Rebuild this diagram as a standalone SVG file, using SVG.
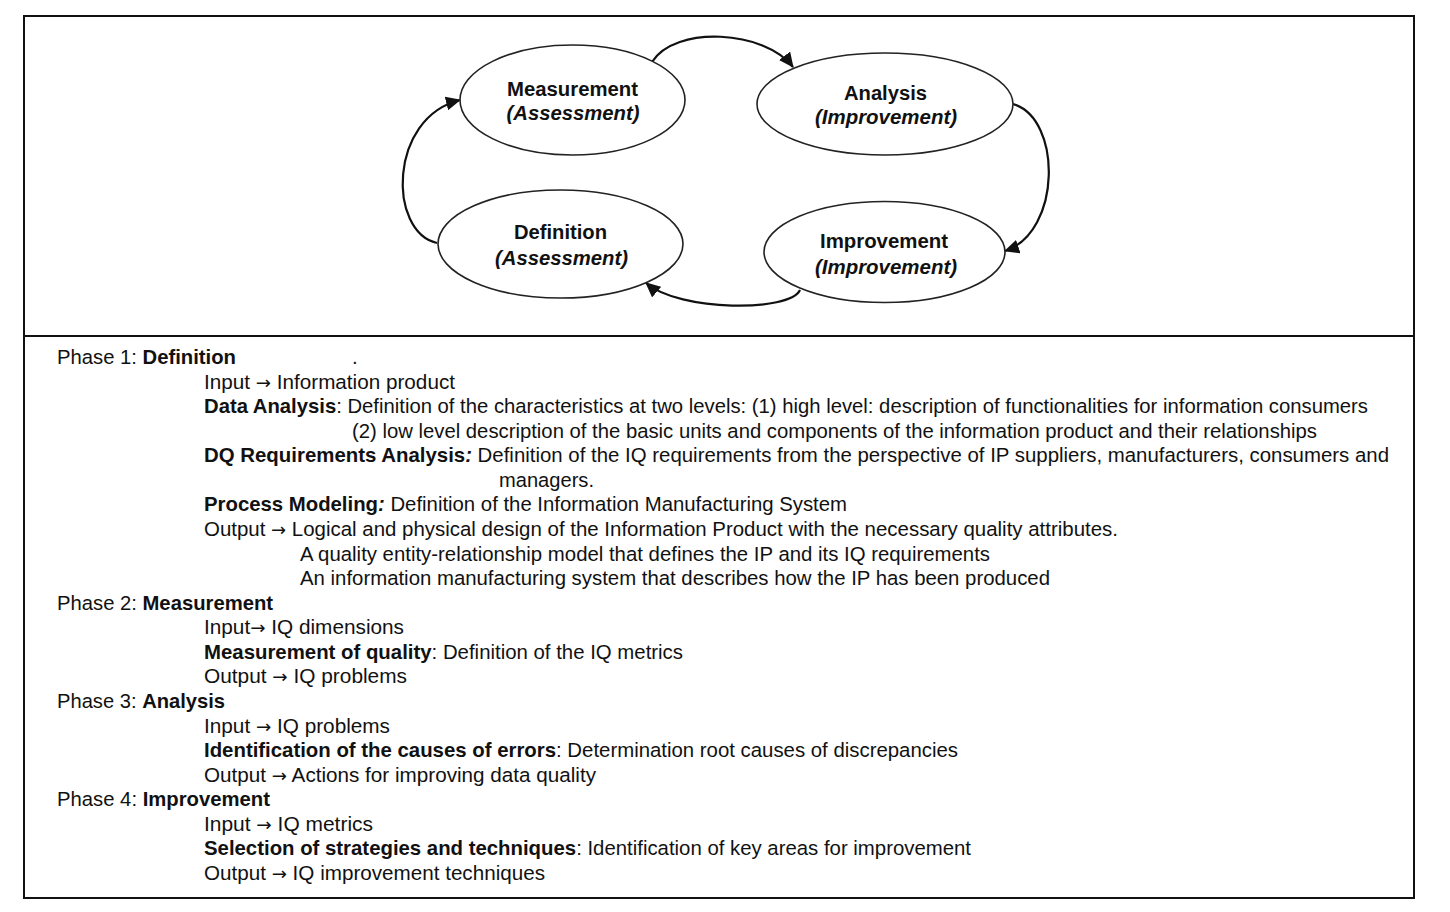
<svg xmlns="http://www.w3.org/2000/svg" width="1450" height="912" viewBox="0 0 1450 912">
<style>
.frame{fill:none;stroke:#111;stroke-width:2}
.node{fill:#fff;stroke:#222;stroke-width:1.6}
.lbl{font-family:"Liberation Sans",Arial,sans-serif;font-size:20px;font-weight:bold;fill:#111;text-anchor:middle}
.it{font-style:italic}
.conn{fill:none;stroke:#111;stroke-width:2.2}
.t{font-family:"Liberation Sans",Arial,sans-serif;font-size:20.5px;fill:#111}
.b{font-weight:bold}
.ar{font-family:"DejaVu Sans",sans-serif;font-size:18px}
</style>
<defs>
<marker id="ah" markerUnits="userSpaceOnUse" markerWidth="16" markerHeight="14" viewBox="0 0 16 14" refX="14" refY="7" orient="auto">
<path d="M0,0 L15,7 L0,14 Z" fill="#111"/>
</marker>
</defs>
<rect class="frame" x="24" y="16" width="1390" height="882"/>
<line class="frame" x1="24" y1="336" x2="1414" y2="336"/>
<g id="connectors">
<path class="conn" d="M652,62 C675,25 765,30 793,67" marker-end="url(#ah)"/>
<path class="conn" d="M1013,104 C1062,118 1062,232 1005,251" marker-end="url(#ah)"/>
<path class="conn" d="M800,290 C790,312 680,312 646,283" marker-end="url(#ah)"/>
<path class="conn" d="M437,243 C388,232 388,118 460,100" marker-end="url(#ah)"/>
</g>
<g id="measurement">
<ellipse class="node" cx="572.5" cy="100" rx="112.5" ry="55"/>
<text class="lbl" x="572.5" y="96" textLength="131" lengthAdjust="spacingAndGlyphs">Measurement</text>
<text class="lbl it" x="573" y="120" textLength="133" lengthAdjust="spacingAndGlyphs">(Assessment)</text>
</g>
<g id="analysis">
<ellipse class="node" cx="885" cy="104" rx="128" ry="51"/>
<text class="lbl" x="885.5" y="100" textLength="83" lengthAdjust="spacingAndGlyphs">Analysis</text>
<text class="lbl it" x="886" y="124" textLength="142" lengthAdjust="spacingAndGlyphs">(Improvement)</text>
</g>
<g id="definition">
<ellipse class="node" cx="560.5" cy="244" rx="122.5" ry="54"/>
<text class="lbl" x="560.5" y="239" textLength="93" lengthAdjust="spacingAndGlyphs">Definition</text>
<text class="lbl it" x="561.5" y="265" textLength="133" lengthAdjust="spacingAndGlyphs">(Assessment)</text>
</g>
<g id="improvement">
<ellipse class="node" cx="884.5" cy="252" rx="120.5" ry="50.5"/>
<text class="lbl" x="884" y="248" textLength="128" lengthAdjust="spacingAndGlyphs">Improvement</text>
<text class="lbl it" x="886" y="274" textLength="142" lengthAdjust="spacingAndGlyphs">(Improvement)</text>
</g>
<g id="phases">
<text class="t" x="57" y="364" textLength="179" lengthAdjust="spacingAndGlyphs">Phase 1: <tspan class="b">Definition</tspan></text>
<text class="t" x="352" y="364">.</text>
<text class="t" x="204" y="388.6" textLength="251" lengthAdjust="spacingAndGlyphs">Input <tspan class="ar">→</tspan> Information product</text>
<text class="t" x="204" y="413.1" textLength="1164" lengthAdjust="spacingAndGlyphs"><tspan class="b">Data Analysis</tspan>: Definition of the characteristics at two levels: (1) high level: description of functionalities for information consumers</text>
<text class="t" x="352" y="437.7" textLength="965" lengthAdjust="spacingAndGlyphs">(2) low level description of the basic units and components of the information product and their relationships</text>
<text class="t" x="204" y="462.3" textLength="1185" lengthAdjust="spacingAndGlyphs"><tspan class="b">DQ Requirements Analysis</tspan><tspan class="b it">:</tspan> Definition of the IQ requirements from the perspective of IP suppliers, manufacturers, consumers and</text>
<text class="t" x="499" y="486.9" textLength="95" lengthAdjust="spacingAndGlyphs">managers.</text>
<text class="t" x="204" y="511.4" textLength="643" lengthAdjust="spacingAndGlyphs"><tspan class="b">Process Modeling</tspan><tspan class="b it">:</tspan> Definition of the Information Manufacturing System</text>
<text class="t" x="204" y="536" textLength="914" lengthAdjust="spacingAndGlyphs">Output <tspan class="ar">→</tspan> Logical and physical design of the Information Product with the necessary quality attributes.</text>
<text class="t" x="300" y="560.6" textLength="690" lengthAdjust="spacingAndGlyphs">A quality entity-relationship model that defines the IP and its IQ requirements</text>
<text class="t" x="300" y="585.1" textLength="750" lengthAdjust="spacingAndGlyphs">An information manufacturing system that describes how the IP has been produced</text>
<text class="t" x="57" y="609.7" textLength="216" lengthAdjust="spacingAndGlyphs">Phase 2: <tspan class="b">Measurement</tspan></text>
<text class="t" x="204" y="634.3" textLength="200" lengthAdjust="spacingAndGlyphs">Input<tspan class="ar">→</tspan> IQ dimensions</text>
<text class="t" x="204" y="658.9" textLength="479" lengthAdjust="spacingAndGlyphs"><tspan class="b">Measurement of quality</tspan>: Definition of the IQ metrics</text>
<text class="t" x="204" y="683.4" textLength="203" lengthAdjust="spacingAndGlyphs">Output <tspan class="ar">→</tspan> IQ problems</text>
<text class="t" x="57" y="708" textLength="168" lengthAdjust="spacingAndGlyphs">Phase 3: <tspan class="b">Analysis</tspan></text>
<text class="t" x="204" y="732.6" textLength="186" lengthAdjust="spacingAndGlyphs">Input <tspan class="ar">→</tspan> IQ problems</text>
<text class="t" x="204" y="757.1" textLength="754" lengthAdjust="spacingAndGlyphs"><tspan class="b">Identification of the causes of errors</tspan>: Determination root causes of discrepancies</text>
<text class="t" x="204" y="781.7" textLength="392" lengthAdjust="spacingAndGlyphs">Output <tspan class="ar">→</tspan> Actions for improving data quality</text>
<text class="t" x="57" y="806.3" textLength="213" lengthAdjust="spacingAndGlyphs">Phase 4: <tspan class="b">Improvement</tspan></text>
<text class="t" x="204" y="830.9" textLength="169" lengthAdjust="spacingAndGlyphs">Input <tspan class="ar">→</tspan> IQ metrics</text>
<text class="t" x="204" y="855.4" textLength="767" lengthAdjust="spacingAndGlyphs"><tspan class="b">Selection of strategies and techniques</tspan>: Identification of key areas for improvement</text>
<text class="t" x="204" y="880" textLength="341" lengthAdjust="spacingAndGlyphs">Output <tspan class="ar">→</tspan> IQ improvement techniques</text>
</g>
</svg>
